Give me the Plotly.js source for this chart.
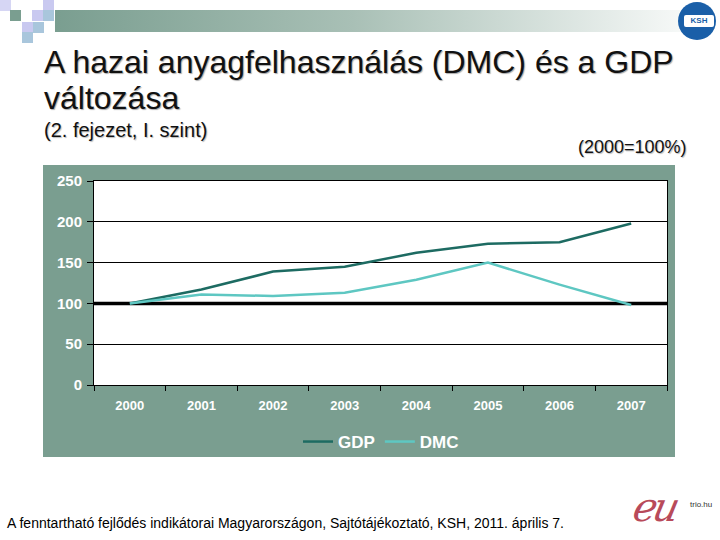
<!DOCTYPE html>
<html>
<head>
<meta charset="utf-8">
<script src="https://cdn.plot.ly/plotly-3.0.1.min.js"></script>
<style>
html,body{margin:0;padding:0;background:#fff;}
#wrap{position:relative;width:720px;height:540px;overflow:hidden;}
#deco{position:absolute;left:0;top:0;width:720px;height:540px;z-index:0;}
#chart{position:absolute;left:0;top:0;width:720px;height:540px;z-index:1;}
.sq{position:absolute;width:11px;height:11px;}
</style>
</head>
<body>
<div id="wrap">
<div id="deco">
  <div style="position:absolute;left:55px;top:10px;width:665px;height:22px;background:linear-gradient(to right,#7a9e90 0%,#a9c0b6 45%,#ffffff 100%);"></div>
  <div class="sq" style="left:0;top:0;background:#d6d6f4;"></div>
  <div class="sq" style="left:10px;top:10px;background:#7a9e90;"></div>
  <div class="sq" style="left:32px;top:10px;background:#c9c9f0;"></div>
  <div class="sq" style="left:43px;top:0;background:#c9c9f0;"></div>
  <div class="sq" style="left:43px;top:10px;background:#a9c6dc;"></div>
  <div class="sq" style="left:22px;top:22px;background:#c9c9f0;"></div>
  <div class="sq" style="left:33px;top:22px;background:#a9c6dc;"></div>
  <div class="sq" style="left:22px;top:32px;background:#a9c6dc;"></div>
  <div style="position:absolute;left:678px;top:2px;width:38px;height:38px;border-radius:50%;background:#1a5fa8;"></div>
  <div style="position:absolute;left:684px;top:15px;width:30px;height:12px;background:#fff;border-radius:2px;font:bold 8px 'Liberation Sans',Arial,sans-serif;color:#1a5fa8;text-align:center;line-height:12px;">KSH</div>
  <div style="position:absolute;left:634px;top:484px;font:italic 40px 'DejaVu Serif',serif;color:#b84a5a;letter-spacing:-4px;transform:skewX(-12deg);">eu</div>
  <div style="position:absolute;left:690px;top:500px;font:8px 'Liberation Sans',Arial,sans-serif;color:#333;">trio.hu</div>
</div>
<div id="chart"></div>
</div>
<script>
// ---- data ----
const years = ['2000','2001','2002','2003','2004','2005','2006','2007'];
const gdp = [100, 117, 139, 145, 162, 173, 175, 198];
const dmc = [100, 111, 109, 113, 129, 150, 123, 98];
const baseline = 100;
const yTicks = [0, 50, 100, 150, 200, 250];

// ---- layout helpers (pixel -> paper) ----
const W = 720, H = 540, L = 94, R = 53, T = 181, B = 155;
const pw = W - L - R, ph = H - T - B;
const px = x => (x - L) / pw;
const py = y => (H - B - y) / ph;

const FONT = 'Liberation Sans, Arial, sans-serif';

const traces = [
  {x: years, y: gdp, name: 'GDP', type: 'scatter', mode: 'lines',
   line: {color: '#1d6b62', width: 2.5}},
  {x: years, y: dmc, name: 'DMC', type: 'scatter', mode: 'lines',
   line: {color: '#5ec7c2', width: 2.5}}
];

const layout = {
  width: W, height: H,
  margin: {l: L, r: R, t: T, b: B, pad: 0},
  paper_bgcolor: 'rgba(0,0,0,0)',
  plot_bgcolor: '#ffffff',
  font: {family: FONT, color: '#000'},
  showlegend: true,
  legend: {orientation: 'h', x: px(381), xanchor: 'center', y: py(442), yanchor: 'middle',
           font: {family: FONT, size: 17, color: '#ffffff', weight: 700}, bgcolor: 'rgba(0,0,0,0)',
           itemwidth: 30, tracegroupgap: 0},
  xaxis: {type: 'category', tickson: 'boundaries', ticks: 'outside', ticklen: 5,
          tickcolor: '#000', tickwidth: 1, showgrid: false, showline: true,
          linecolor: '#000', linewidth: 1, mirror: true, zeroline: false,
          ticklabelstandoff: 8,
          tickfont: {family: FONT, size: 13, color: '#ffffff', weight: 700},
          range: [-0.5, years.length - 0.5], fixedrange: true},
  yaxis: {range: [0, 250], tickvals: yTicks, ticktext: yTicks.map(String),
          showgrid: true, gridcolor: '#000', gridwidth: 1, zeroline: false,
          showline: true, linecolor: '#000', linewidth: 1, mirror: true,
          ticks: 'outside', ticklen: 6, tickcolor: '#000', ticklabelstandoff: 2,
          tickfont: {family: FONT, size: 15, color: '#ffffff', weight: 700}, fixedrange: true},
  shapes: [
    {type: 'rect', xref: 'paper', yref: 'paper', x0: px(43), x1: px(675), y0: py(457), y1: py(165),
     fillcolor: '#7a9e90', line: {width: 0}, layer: 'below'},
    {type: 'rect', xref: 'paper', yref: 'paper', x0: 0, x1: 1, y0: 0, y1: 1,
     fillcolor: '#ffffff', line: {width: 0}, layer: 'below'},
    {type: 'line', xref: 'paper', yref: 'y', x0: 0, x1: 1, y0: baseline, y1: baseline,
     line: {color: '#000', width: 3.5}, layer: 'between'}
  ],
  annotations: [
    {text: 'A hazai anyagfelhasználás (DMC) és a GDP', xref: 'paper', yref: 'paper',
     x: px(42), y: py(62), xanchor: 'left', yanchor: 'middle', showarrow: false,
     font: {family: FONT, size: 32, color: '#111', shadow: '1px 1px 1px #aaa'}},
    {text: 'változása', xref: 'paper', yref: 'paper',
     x: px(42), y: py(98), xanchor: 'left', yanchor: 'middle', showarrow: false,
     font: {family: FONT, size: 32, color: '#111', shadow: '1px 1px 1px #aaa'}},
    {text: '(2. fejezet, I. szint)', xref: 'paper', yref: 'paper',
     x: px(42), y: py(130), xanchor: 'left', yanchor: 'middle', showarrow: false,
     font: {family: FONT, size: 20, color: '#111', shadow: '1px 1px 1px #bbb'}},
    {text: '(2000=100%)', xref: 'paper', yref: 'paper',
     x: px(689), y: py(147), xanchor: 'right', yanchor: 'middle', showarrow: false,
     font: {family: FONT, size: 18, color: '#111', shadow: '1px 1px 1px #bbb'}},
    {text: 'A fenntartható fejlődés indikátorai Magyarországon, Sajtótájékoztató, KSH, 2011. április 7.',
     xref: 'paper', yref: 'paper', x: px(5), y: py(523), xanchor: 'left', yanchor: 'middle',
     showarrow: false, font: {family: FONT, size: 14, color: '#000'}}
  ]
};

Plotly.newPlot('chart', traces, layout, {displayModeBar: false, staticPlot: true});
</script>
</body>
</html>
